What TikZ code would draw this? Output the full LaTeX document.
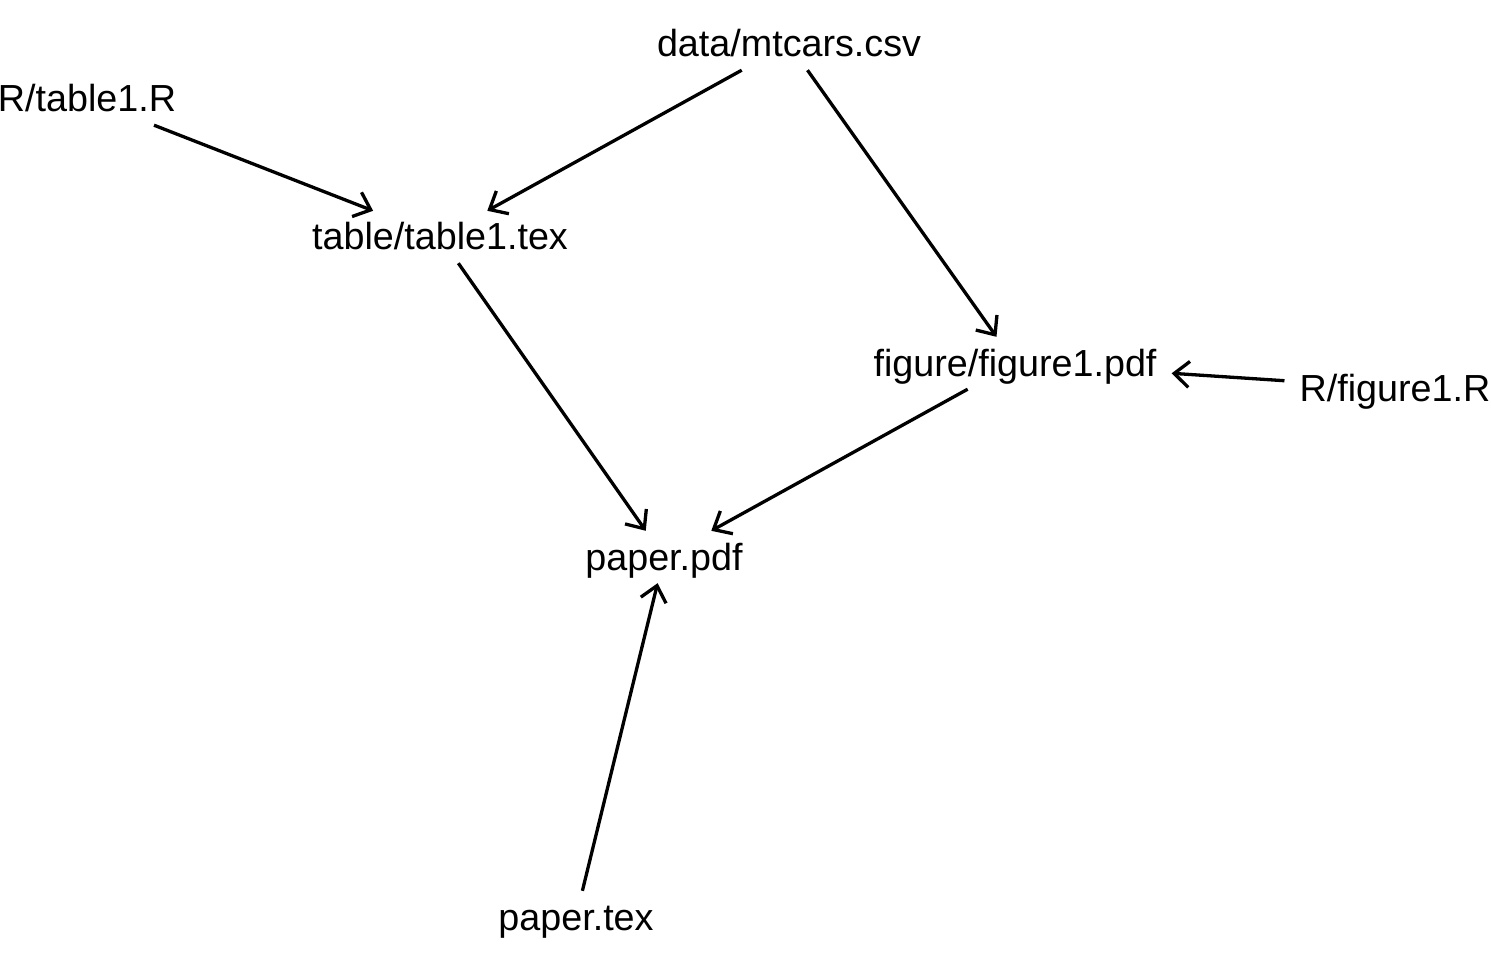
\documentclass[tikz,border=0pt]{standalone}
\usepackage{fontspec}
\setmainfont{Liberation Sans}
\usetikzlibrary{arrows.meta}
\begin{document}
\begin{tikzpicture}[x=1pt,y=-1pt,
  file/.style={font=\fontsize{37.7}{40}\selectfont, text height=27pt, text depth=1pt, inner xsep=15pt, inner ysep=12pt, anchor=base},
  dep/.style={-{Straight Barb[length=15pt,width=26pt,line width=3.3pt]}, line width=3.3pt}]
\useasboundingbox (0,0) rectangle (1491,960);
\node[file] (data) at (789,57) {data/mtcars.csv};
\node[file] (rt) at (87,112) {R/table1.R};
\node[file] (tab) at (440,250) {table/table1.tex};
\node[file] (fig) at (1015,376) {figure/figure1.pdf};
\node[file] (rf) at (1395,401) {R/figure1.R};
\node[file] (pdf) at (664,570) {paper.pdf};
\node[file] (tex) at (576,930) {paper.tex};
\draw[dep] (data) -- (tab);
\draw[dep] (data) -- (fig);
\draw[dep] (rt) -- (tab);
\draw[dep] (tab) -- (pdf);
\draw[dep] (fig) -- (pdf);
\draw[dep] (rf) -- (fig);
\draw[dep] (tex) -- (pdf);
\end{tikzpicture}
\end{document}
